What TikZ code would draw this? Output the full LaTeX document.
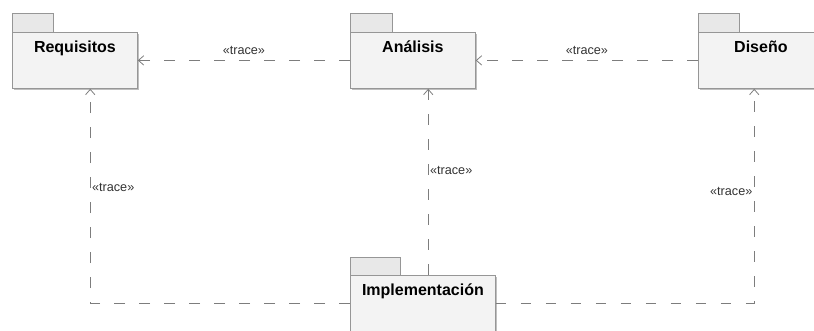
\documentclass[tikz,border=0pt]{standalone}
\usepackage{fontspec}
\setmainfont{Liberation Sans}
\usepackage{tikz}
\usetikzlibrary{arrows.meta, calc, shadows}
\usepackage{xcolor}
\definecolor{borde}{RGB}{150,150,150}
\definecolor{relleno}{RGB}{243,243,243}
\definecolor{pestana}{RGB}{232,232,232}
\definecolor{linea}{RGB}{125,125,125}

\tikzset{
	paquete/.style={draw=borde, fill=relleno, line width=0.6pt, anchor=north west,
		minimum width=93.75pt, minimum height=42pt, inner sep=0pt,
		drop shadow={shadow xshift=1.2pt, shadow yshift=-1.2pt, fill=black!25, opacity=1},
		label={[font=\fontsize{12}{13}\selectfont\bfseries, anchor=north, yshift=-3pt]north:#1}},
	tab/.style={draw=borde, fill=pestana, line width=0.6pt},
	traza/.style={draw=linea, line width=0.75pt, dash pattern=on 8pt off 10.75pt, -{Straight Barb[length=4pt, width=7pt, line width=0.6pt]}},
	etiqueta/.style={font=\fontsize{9.5}{10}\selectfont, text=black!80, inner sep=1pt},
}

\begin{document}
\begin{tikzpicture}[x=0.75pt, y=-0.75pt]
	\path[use as bounding box, clip] (0,0) rectangle (814,331);%
	%
	\draw[tab] (12,32) rectangle (53,13);%
	\node[paquete={Requisitos}] (requisitos) at (12,32) {};%
	\draw[tab] (350,32) rectangle (392,13);%
	\node[paquete={Análisis}] (analisis) at (350,32) {};%
	\draw[tab] (698,32) rectangle (739,13);%
	\node[paquete={Diseño}] (diseno) at (698,32) {};%
	\draw[tab] (350,275) rectangle (400,257);%
	\node[paquete={Implementación}, minimum width=108.75pt] (implementacion) at (350,275) {};%
	%
	\draw[traza] (analisis.west) -- (requisitos.east) node[etiqueta, midway, above=3pt] {«trace»};%
	\draw[traza] (diseno.west) -- (analisis.east) node[etiqueta, midway, above=3pt] {«trace»};%
	\draw[traza] (implementacion.west) -| ([xshift=11.5pt]requisitos.south) node[etiqueta, pos=0.77, right=0pt] {«trace»};%
	\draw[traza] ([xshift=4pt]implementacion.north) -- ([xshift=4pt]implementacion.north |- analisis.south) node[etiqueta, pos=0.56, right=0pt] {«trace»};%
	\draw[traza] (implementacion.east) -| ([xshift=-5pt]diseno.south) node[etiqueta, pos=0.76, left=0pt] {«trace»};%
\end{tikzpicture}
\end{document}
